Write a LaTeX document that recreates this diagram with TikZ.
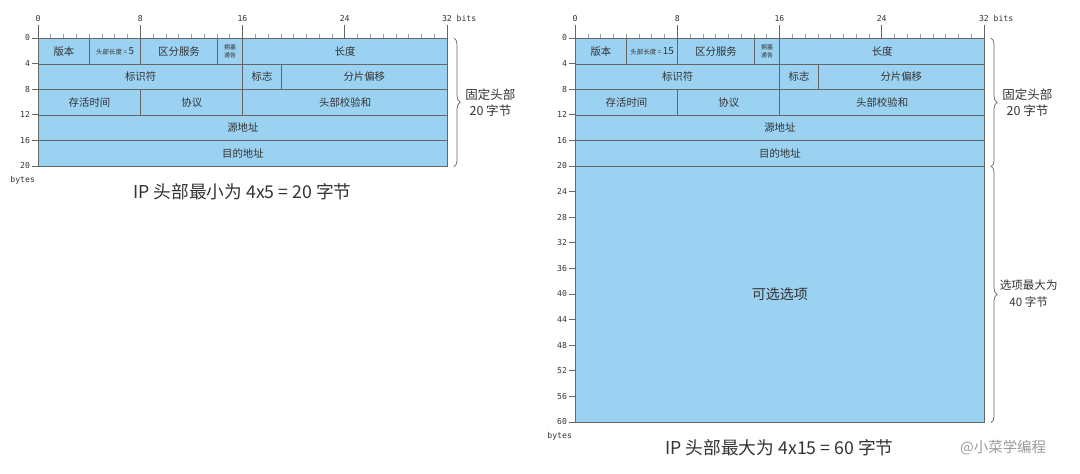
\documentclass[tikz,border=0pt]{standalone}
\usepackage{fontspec}
\setmainfont{Noto Sans CJK SC}
\setmonofont{DejaVu Sans Mono}
\usetikzlibrary{decorations.pathreplacing}
\definecolor{fieldblue}{HTML}{9BD1F1}
\definecolor{gridgray}{HTML}{666666}
\definecolor{inkgray}{HTML}{333333}
\definecolor{markgray}{HTML}{9A9A9A}

\begin{document}
\begin{tikzpicture}[
  field/.style={draw=gridgray, fill=fieldblue, line width=0.6pt, inner sep=0pt,
                anchor=north west, align=center, text=inkgray,
                font=\fontsize{7.4}{8}\selectfont},
  fieldw/.style={minimum width=#1*0.3195cm},
  fieldh/.style={minimum height=#1*0.64cm},
  ecn/.style={font=\fontsize{4.2}{5.8}\selectfont},
  ruler/.style={font=\ttfamily\fontsize{5.8}{7}\selectfont, text=inkgray, inner sep=1pt},
  tickmark/.style={draw=gridgray, line width=0.5pt},
  minortick/.style={draw=markgray, line width=0.4pt},
  brc/.style={decorate, decoration={brace, amplitude=4.5pt}, draw=gridgray, line width=0.5pt},
  bracenote/.style={align=center, text=inkgray, font=\fontsize{8.9}{12}\selectfont},
  captext/.style={text=inkgray, font=\fontsize{12.6}{14}\selectfont},
]
\useasboundingbox (0,0) rectangle (27,-11.825);
% ----- minimum header (20 bytes) -----
\begin{scope}[shift={(0.95,-0.95)}, x=0.3195cm, y=-0.16cm]
% ruler
\foreach \b in {1,...,31} \draw[minortick] (\b,0) -- (\b,-0.7);
\foreach \b in {0,8,...,32} {
  \draw[tickmark] (\b,0) -- (\b,-2);
  \node[ruler] (Lb\b) at (\b,-3.1) {\b};
}
\node[ruler, anchor=west, xshift=1pt] (Lbits) at (Lb32.east) {bits};
\foreach \y in {0,4,...,20} {
  \draw[tickmark] (-0.5,\y) -- (0,\y);
  \node[ruler, anchor=east] (Ly\y) at (-0.5,\y) {\y};
}
\node[ruler] (Lbytes) at (-1.2,22.2) {bytes};
% fields
\node[field, fieldw=4, fieldh=1] (Lver) at (0,0) {版本};
\node[field, fieldw=4, fieldh=1] (Lihl) at (4,0) {{\fontsize{4.6}{5}\selectfont 头部长度 = }{\fontsize{7}{8}\selectfont 5}};
\node[field, fieldw=6, fieldh=1] (Ldscp) at (8,0) {区分服务};
\node[field, ecn, fieldw=2, fieldh=1] (Lecn) at (14,0) {拥塞\\通告};
\node[field, fieldw=16, fieldh=1] (Llen) at (16,0) {长度};
\node[field, fieldw=16, fieldh=1] (Lid) at (0,4) {标识符};
\node[field, fieldw=3, fieldh=1] (Lflag) at (16,4) {标志};
\node[field, fieldw=13, fieldh=1] (Lfrag) at (19,4) {分片偏移};
\node[field, fieldw=8, fieldh=1] (Lttl) at (0,8) {存活时间};
\node[field, fieldw=8, fieldh=1] (Lproto) at (8,8) {协议};
\node[field, fieldw=16, fieldh=1] (Lsum) at (16,8) {头部校验和};
\node[field, fieldw=32, fieldh=1] (Lsrc) at (0,12) {源地址};
\node[field, fieldw=32, fieldh=1] (Ldst) at (0,16) {目的地址};
% brace + captions
\draw[brc] ([xshift=4.3pt]Llen.north east) -- ([xshift=4.3pt]Ldst.south east);
\node[bracenote] (Lfixed) at (35.4,10.1) {固定头部\\20 字节};
\node[captext] (Lcap) at (16,24) {IP 头部最小为 4x5 = 20 字节};
\end{scope}
% ----- maximum header (60 bytes) -----
\begin{scope}[shift={(14.375,-0.95)}, x=0.3195cm, y=-0.16cm]
% ruler
\foreach \b in {1,...,31} \draw[minortick] (\b,0) -- (\b,-0.7);
\foreach \b in {0,8,...,32} {
  \draw[tickmark] (\b,0) -- (\b,-2);
  \node[ruler] (Rb\b) at (\b,-3.1) {\b};
}
\node[ruler, anchor=west, xshift=1pt] (Rbits) at (Rb32.east) {bits};
\foreach \y in {0,4,...,60} {
  \draw[tickmark] (-0.5,\y) -- (0,\y);
  \node[ruler, anchor=east] (Ry\y) at (-0.5,\y) {\y};
}
\node[ruler] (Rbytes) at (-1.2,62.2) {bytes};
% fields
\node[field, fieldw=4, fieldh=1] (Rver) at (0,0) {版本};
\node[field, fieldw=4, fieldh=1] (Rihl) at (4,0) {{\fontsize{4.6}{5}\selectfont 头部长度 = }{\fontsize{7}{8}\selectfont 15}};
\node[field, fieldw=6, fieldh=1] (Rdscp) at (8,0) {区分服务};
\node[field, ecn, fieldw=2, fieldh=1] (Recn) at (14,0) {拥塞\\通告};
\node[field, fieldw=16, fieldh=1] (Rlen) at (16,0) {长度};
\node[field, fieldw=16, fieldh=1] (Rid) at (0,4) {标识符};
\node[field, fieldw=3, fieldh=1] (Rflag) at (16,4) {标志};
\node[field, fieldw=13, fieldh=1] (Rfrag) at (19,4) {分片偏移};
\node[field, fieldw=8, fieldh=1] (Rttl) at (0,8) {存活时间};
\node[field, fieldw=8, fieldh=1] (Rproto) at (8,8) {协议};
\node[field, fieldw=16, fieldh=1] (Rsum) at (16,8) {头部校验和};
\node[field, fieldw=32, fieldh=1] (Rsrc) at (0,12) {源地址};
\node[field, fieldw=32, fieldh=1] (Rdst) at (0,16) {目的地址};
\node[field, fieldw=32, fieldh=10, font=\fontsize{10}{12}\selectfont] (Ropt) at (0,20) {可选选项};
% braces + captions
\draw[brc] ([xshift=4.3pt]Rlen.north east) -- ([xshift=4.3pt]Rdst.south east);
\draw[brc] ([xshift=4.3pt]Ropt.north east) -- ([xshift=4.3pt]Ropt.south east);
\node[bracenote] (Rfixed) at (35.4,10.1) {固定头部\\20 字节};
\node[bracenote, font=\fontsize{8.2}{12}\selectfont] (Ropts) at (35.5,40) {选项最大为\\40 字节};
\node[captext] (Rcap) at (16,64) {IP 头部最大为 4x15 = 60 字节};
\node[text=markgray, font=\fontsize{10.3}{12}\selectfont] (Rmark) at (33.5,64) {@小菜学编程};
\end{scope}
\end{tikzpicture}
\end{document}
